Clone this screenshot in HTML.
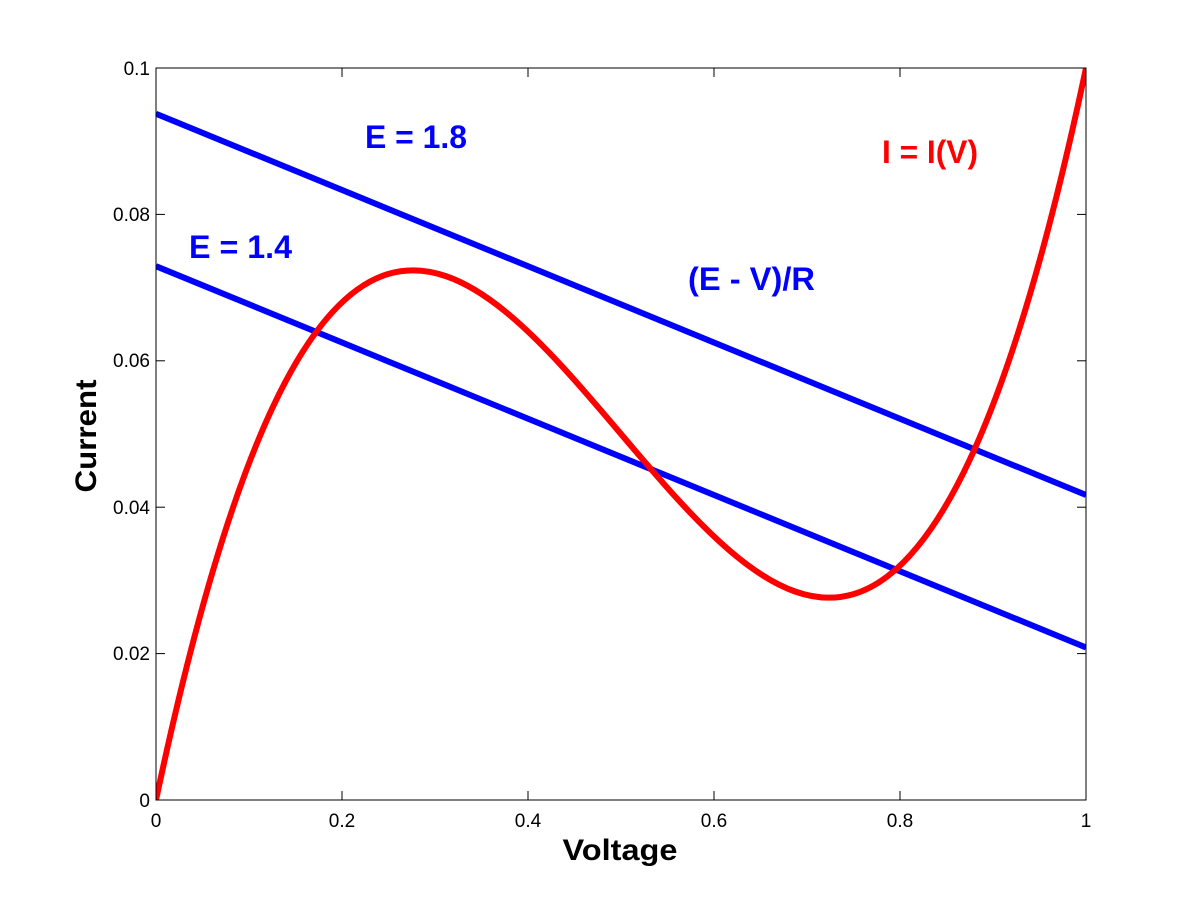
<!DOCTYPE html>
<html><head><meta charset="utf-8"><style>
html,body{margin:0;padding:0;background:#fff;}
svg text{font-family:"Liberation Sans",Arial,sans-serif;}
</style></head><body>
<svg width="1200" height="900" viewBox="0 0 1200 900" xmlns="http://www.w3.org/2000/svg">
<rect width="1200" height="900" fill="#fff"/>
<defs><clipPath id="c"><rect x="156" y="68" width="930" height="732"/></clipPath></defs>
<g clip-path="url(#c)">
<line x1="156" y1="113.75" x2="1086" y2="495" stroke="#0000ff" stroke-width="6"/>
<line x1="156" y1="266.2" x2="1086" y2="647.5" stroke="#0000ff" stroke-width="6"/>
<path d="M156,800 C466,-664 776,1532 1086,68" fill="none" stroke="#ff0000" stroke-width="6"/>
</g>
<rect x="156" y="68" width="930" height="732" fill="none" stroke="#000" stroke-width="1"/>
<g stroke="#000" stroke-width="1">
<line x1="342" y1="800" x2="342" y2="791"/><line x1="528" y1="800" x2="528" y2="791"/><line x1="714" y1="800" x2="714" y2="791"/><line x1="900" y1="800" x2="900" y2="791"/>
<line x1="342" y1="68" x2="342" y2="77"/><line x1="528" y1="68" x2="528" y2="77"/><line x1="714" y1="68" x2="714" y2="77"/><line x1="900" y1="68" x2="900" y2="77"/>
<line x1="156" y1="653.6" x2="165" y2="653.6"/><line x1="156" y1="507.2" x2="165" y2="507.2"/><line x1="156" y1="360.8" x2="165" y2="360.8"/><line x1="156" y1="214.4" x2="165" y2="214.4"/>
<line x1="1086" y1="653.6" x2="1077" y2="653.6"/><line x1="1086" y1="507.2" x2="1077" y2="507.2"/><line x1="1086" y1="360.8" x2="1077" y2="360.8"/><line x1="1086" y1="214.4" x2="1077" y2="214.4"/>
</g>
<g font-size="19" fill="#000" text-anchor="middle">
<text x="156" y="827">0</text><text x="342" y="827">0.2</text><text x="528" y="827">0.4</text><text x="714" y="827">0.6</text><text x="900" y="827">0.8</text><text x="1086" y="827">1</text>
</g>
<g font-size="19" fill="#000" text-anchor="end">
<text x="150" y="807">0</text><text x="150" y="660">0.02</text><text x="150" y="514">0.04</text><text x="150" y="367">0.06</text><text x="150" y="221">0.08</text><text x="150" y="75">0.1</text>
</g>
<text x="620" y="860" font-size="30" font-weight="bold" text-anchor="middle" textLength="115" lengthAdjust="spacingAndGlyphs">Voltage</text>
<text transform="translate(96,436) rotate(-90)" font-size="30" font-weight="bold" text-anchor="middle" textLength="113" lengthAdjust="spacingAndGlyphs">Current</text>
<g font-size="32" font-weight="bold" fill="#0000ff">
<text x="365" y="148" textLength="102" lengthAdjust="spacingAndGlyphs">E = 1.8</text>
<text x="189" y="258" textLength="103" lengthAdjust="spacingAndGlyphs">E = 1.4</text>
<text x="688" y="290" textLength="127" lengthAdjust="spacingAndGlyphs">(E - V)/R</text>
</g>
<text x="882" y="163" font-size="32" font-weight="bold" fill="#ff0000" textLength="96" lengthAdjust="spacingAndGlyphs">I = I(V)</text>
</svg>
</body></html>
